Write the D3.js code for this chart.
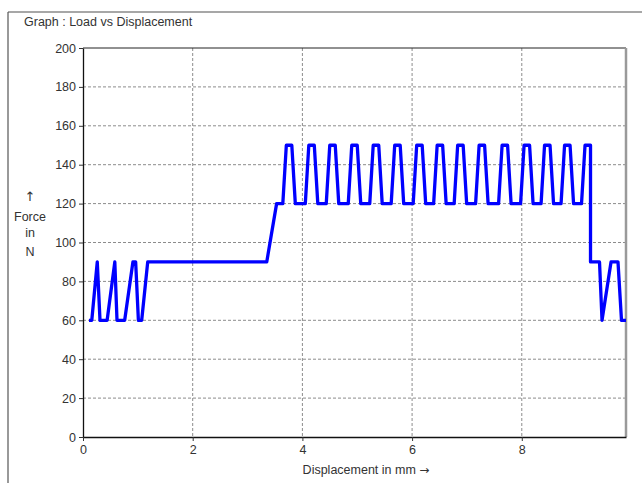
<!DOCTYPE html>
<html>
<head>
  <meta charset="utf-8">
  <script src="https://d3js.org/d3.v7.min.js"></script>
  <style>
    body {
      margin: 0;
      background: #ffffff;
      font-family: "Liberation Sans", Arial, sans-serif;
    }
    .tick_label {
      fill: #333333;
      font-size: 12px;
    }
    .grid {
      stroke: #8c8c8c;
      stroke-width: 1;
      stroke-dasharray: 3, 2;
    }
  </style>
  <title>Graph : Load vs Displacement</title>
</head>
<body>
  <svg></svg>
  <script>
    const title = "Graph : Load vs Displacement"
    const xLabel = "Displacement in mm"
    const yLabel = ["\u2191", "Force", "in", "N"]

    const xTicks = [0, 2, 4, 6, 8]
    const yTicks = [0, 20, 40, 60, 80, 100, 120, 140, 160, 180, 200]

    // displacement (mm) and force (N)
    const displacement = [
      0.11, 0.16, 0.26, 0.31, 0.44, 0.58, 0.62, 0.76, 0.91, 0.96, 1.01, 1.07, 1.18,
      3.35, 3.53,
      3.643, 3.707, 3.807, 3.871,
      4.053, 4.117, 4.217, 4.281,
      4.435, 4.499, 4.599, 4.663,
      4.836, 4.900, 5.000, 5.064,
      5.228, 5.291, 5.392, 5.455,
      5.619, 5.683, 5.783, 5.847,
      6.020, 6.084, 6.184, 6.248,
      6.393, 6.457, 6.557, 6.621,
      6.767, 6.831, 6.931, 6.995,
      7.158, 7.222, 7.322, 7.386,
      7.577, 7.641, 7.741, 7.805,
      7.978, 8.042, 8.142, 8.206,
      8.352, 8.415, 8.515, 8.579,
      8.716, 8.780, 8.880, 8.944,
      9.089, 9.153, 9.253,
      9.253, 9.417, 9.463, 9.627, 9.754, 9.818, 9.9
    ]
    const force = [
      60, 60, 90, 60, 60, 90, 60, 60, 90, 90, 60, 60, 90,
      90, 120,
      120, 150, 150, 120,
      120, 150, 150, 120,
      120, 150, 150, 120,
      120, 150, 150, 120,
      120, 150, 150, 120,
      120, 150, 150, 120,
      120, 150, 150, 120,
      120, 150, 150, 120,
      120, 150, 150, 120,
      120, 150, 150, 120,
      120, 150, 150, 120,
      120, 150, 150, 120,
      120, 150, 150, 120,
      120, 150, 150, 120,
      120, 150, 150,
      90, 90, 60, 90, 90, 60, 60
    ]

    const width = 642
    const height = 483
    const m = {left: 83, right: 626, top: 48, bottom: 437}

    const svg = d3.select("svg")
      .attr("width", width)
      .attr("height", height)

    const xScale = d3.scaleLinear().domain([0, 9.9]).range([m.left, m.right])
    const yScale = d3.scaleLinear().domain([0, 200]).range([m.bottom, m.top])

    // outer frame
    svg.append("line")
      .attr("x1", 8).attr("y1", 12).attr("x2", width).attr("y2", 12)
      .attr("stroke", "#8a8a8a").attr("stroke-width", 1.5)
    svg.append("line")
      .attr("x1", 8).attr("y1", 12).attr("x2", 8).attr("y2", height)
      .attr("stroke", "#555555").attr("stroke-width", 1.2)

    svg.append("text")
      .attr("x", 24)
      .attr("y", 26)
      .attr("fill", "#333333")
      .style("font-size", "12.5px")
      .text(title)

    // grid
    svg.selectAll(".gx")
      .data(xTicks.filter(d => d > 0))
      .enter()
      .append("line")
      .attr("class", "grid")
      .attr("x1", d => xScale(d)).attr("x2", d => xScale(d))
      .attr("y1", m.top).attr("y2", m.bottom)

    svg.selectAll(".gy")
      .data(yTicks.filter(d => d > 0 && d < 200))
      .enter()
      .append("line")
      .attr("class", "grid")
      .attr("x1", m.left).attr("x2", m.right)
      .attr("y1", d => yScale(d)).attr("y2", d => yScale(d))

    // plot frame
    svg.append("line")
      .attr("x1", m.left).attr("x2", m.right).attr("y1", m.top).attr("y2", m.top)
      .attr("stroke", "#222222").attr("stroke-width", 1)
    svg.append("line")
      .attr("x1", m.right).attr("x2", m.right).attr("y1", m.top).attr("y2", m.bottom)
      .attr("stroke", "#9a9a9a").attr("stroke-width", 2.5)

    // axes
    const yAxis = svg.append("g")
      .attr("transform", `translate(${m.left},0)`)
      .call(d3.axisLeft(yScale).tickValues(yTicks).tickSize(4).tickSizeOuter(0).tickPadding(3))
    const xAxis = svg.append("g")
      .attr("transform", `translate(0,${m.bottom})`)
      .call(d3.axisBottom(xScale).tickValues(xTicks).tickSize(4).tickSizeOuter(0).tickPadding(4))

    for (const ax of [xAxis, yAxis]) {
      ax.select(".domain").attr("stroke", "#111111").attr("stroke-width", 1.3)
      ax.selectAll(".tick line").attr("stroke", "#333333")
      ax.selectAll(".tick text")
        .attr("class", "tick_label")
        .style("font-family", "Liberation Sans, Arial, sans-serif")
        .style("font-size", "12.5px")
        .attr("fill", "#333333")
    }

    // curve
    const line = d3.line()
      .x((d, i) => xScale(displacement[i]))
      .y(d => yScale(d))

    svg.append("path")
      .datum(force)
      .attr("fill", "none")
      .attr("stroke", "#0000ff")
      .attr("stroke-width", 3.3)
      .attr("stroke-linejoin", "round")
      .attr("d", line)

    // labels
    const xl = svg.append("text")
      .attr("x", 366)
      .attr("y", 474)
      .attr("text-anchor", "middle")
      .attr("fill", "#333333")
      .style("font-size", "12.5px")
    xl.append("tspan").text(xLabel + " ")
    xl.append("tspan")
      .style("font-family", "DejaVu Sans, sans-serif")
      .style("font-size", "12px")
      .text("\u2192")

    svg.selectAll(".ylab")
      .data(yLabel)
      .enter()
      .append("text")
      .attr("class", "ylab")
      .attr("x", 30)
      .attr("y", (d, i) => [201, 221, 237, 256][i])
      .attr("text-anchor", "middle")
      .attr("fill", "#333333")
      .style("font-family", (d, i) => i === 0 ? "DejaVu Sans, sans-serif" : null)
      .style("font-size", (d, i) => i === 0 ? "13px" : "12.5px")
      .text(d => d)
  </script>
</body>
</html>
